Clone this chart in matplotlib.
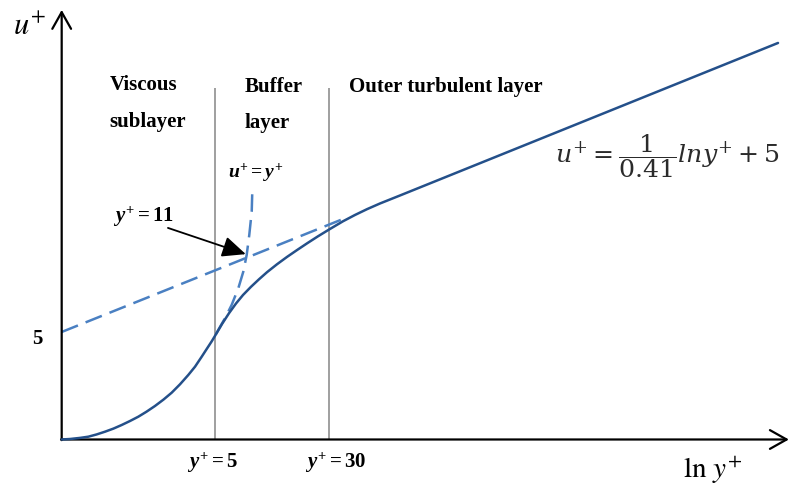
import matplotlib
matplotlib.use('Agg')
import matplotlib.pyplot as plt
import numpy as np

# ── Law-of-the-wall profile (schematic, x = ln y+) ────────────────────────────
# full velocity profile: viscous sublayer -> buffer -> log region
x_profile = [-0.829, -0.697, -0.539, -0.407, -0.277, -0.142, -0.008, 0.122,
             0.254, 0.386, 0.516, 0.650, 0.785, 0.915, 1.047, 1.178, 1.285,
             1.391, 1.467, 1.549, 1.610, 1.713, 1.824, 1.935, 2.046, 2.172,
             2.299, 2.426, 2.585, 2.743, 2.902, 3.060, 3.235, 3.409, 3.631,
             3.821, 4.012, 4.218, 4.535, 10.528]
u_profile = [0.000, 0.023, 0.074, 0.130, 0.233, 0.363, 0.507, 0.674,
             0.860, 1.060, 1.293, 1.558, 1.856, 2.177, 2.567, 3.000, 3.386,
             3.851, 4.195, 4.563, 4.860, 5.372, 5.874, 6.326, 6.721, 7.100,
             7.450, 7.780, 8.150, 8.490, 8.810, 9.120, 9.451, 9.763, 10.149,
             10.442, 10.712, 10.977, 11.349, 18.442]

# log law extended down to the wall (intercept 5)
x_loglaw = [-0.829, 3.636]
u_loglaw = [5.0, 10.26]

# linear law u+ = y+ extended into the buffer layer
x_linear = [1.618, 1.760, 1.866, 1.971, 2.050, 2.104, 2.145, 2.184, 2.193]
u_linear = [4.91, 5.64, 6.26, 7.03, 7.80, 8.58, 9.51, 10.60, 11.56]

# layer boundaries in y+
yplus_bounds = [5, 30]
bound_top = 16.35

# where the two asymptotes cross (y+ = 11) and where its label sits
cross_pt = (2.09, 8.62)
cross_label_pt = (0.856, 9.84)

SOLID = "#24508a"
DASH = "#4a80c2"
GREY = "#8f8f8f"

plt.rcParams['mathtext.fontset'] = 'custom'
plt.rcParams['mathtext.rm'] = 'Liberation Serif:bold'
plt.rcParams['mathtext.it'] = 'Liberation Serif:italic:bold'
plt.rcParams['mathtext.bf'] = 'Liberation Serif:bold'

fig = plt.figure(figsize=(7.9, 4.86), dpi=100)
ax = fig.add_axes([0, 0, 1, 1])
ax.set_xlim(-1.807, 10.718)
ax.set_ylim(-2.163, 20.44)
ax.axis("off")

x0 = x_profile[0]

# axes with open arrow heads
axis_arrow = dict(arrowstyle="->,head_length=0.8,head_width=0.45", lw=1.6,
                  color="black", shrinkA=0, shrinkB=0, mutation_scale=15)
ax.annotate("", xy=(10.70, 0), xytext=(x0 - 0.01, 0), arrowprops=axis_arrow)
ax.annotate("", xy=(x0, 19.98), xytext=(x0, -0.03), arrowprops=axis_arrow)

# layer boundaries
ax.vlines(np.log(yplus_bounds), 0, bound_top, color=GREY, lw=1.2, zorder=1)

# asymptotes
ax.plot(x_loglaw, u_loglaw, color=DASH, lw=1.8, dashes=(7.0, 3.3), zorder=2)
ax.plot(x_linear, u_linear, color=DASH, lw=1.8, dashes=(7.0, 3.3), zorder=2)

# profile
ax.plot(x_profile, u_profile, color=SOLID, lw=1.8, solid_capstyle="round",
        solid_joinstyle="round", zorder=3)

# y+ = 11 pointer
ax.annotate("", xy=cross_pt, xytext=cross_label_pt,
            arrowprops=dict(arrowstyle="-|>,head_length=0.9,head_width=0.4",
                            color="black", lw=1.3, mutation_scale=16,
                            shrinkA=0, shrinkB=0), zorder=4)

# ── text ──────────────────────────────────────────────────────────────────────
T = ax.transAxes
bold = dict(family="Liberation Serif", fontweight="bold", fontsize=15,
            color="black", transform=T, va="baseline", ha="left")

ax.text(0.139, 0.815, "Viscous", **bold)
ax.text(0.139, 0.739, "sublayer", **bold)
ax.text(0.310, 0.811, "Buffer", **bold)
ax.text(0.310, 0.737, "layer", **bold)
ax.text(0.442, 0.811, "Outer turbulent layer", **bold)

ax.text(0.289, 0.634, r"$u^{+} = y^{+}$", fontsize=14, transform=T,
        va="baseline", ha="left")
ax.text(0.143, 0.543, r"$y^{+} = 11$", fontsize=15, transform=T,
        va="baseline", ha="left")
ax.text(0.237, 0.037, r"$y^{+} = 5$", fontsize=15, transform=T,
        va="baseline", ha="left")
ax.text(0.386, 0.037, r"$y^{+} = 30$", fontsize=15, transform=T,
        va="baseline", ha="left")
ax.text(0.048, 0.292, r"$5$", fontsize=15, transform=T,
        va="baseline", ha="center")

ax.text(0.0165, 0.928, r"$u^{+}$", fontsize=22, math_fontfamily="stix",
        transform=T, va="baseline", ha="left")
ax.text(0.8646, 0.0165, r"$\mathrm{ln}\ y^{+}$", fontsize=21,
        math_fontfamily="stix", transform=T, va="baseline", ha="left")

ax.text(0.703, 0.679, r"$u^{+} = \dfrac{1}{0.41} lny^{+} + 5$", fontsize=18.2,
        math_fontfamily="dejavuserif", color="#2b2b2b", transform=T,
        va="center", ha="left")

fig.savefig("out.png", dpi=100, facecolor="white")
